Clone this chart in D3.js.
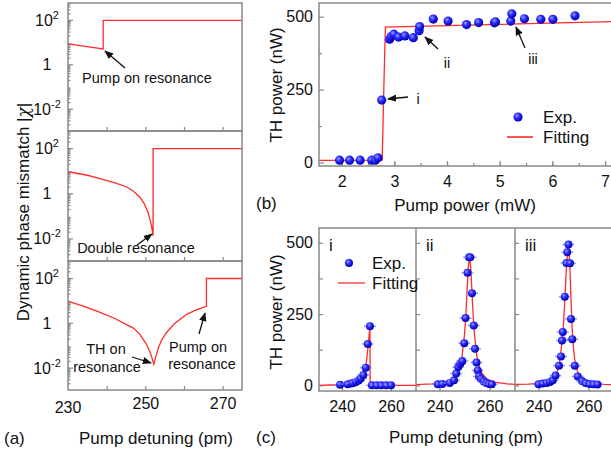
<!DOCTYPE html>
<html lang="en">
<head>
<meta charset="utf-8">
<title>TH chart</title>
<script src="https://cdn.jsdelivr.net/npm/d3@7"></script>
<style>
    body { margin: 0; background: #fff; }
    svg text { font-family: "Liberation Sans", Arial, sans-serif; fill: #111; }
    .axis path { display: none; }
    .axis line { stroke: #888; stroke-width: 1.2; }
    .axis text { font-size: 16px; fill: #111; }
    .frame { fill: none; stroke: #888; stroke-width: 1.5; }
    .fit { fill: none; stroke: #ff2a2a; stroke-width: 1.3; }
    .ann { font-size: 14.5px; }
    .lab { font-size: 17px; }
</style>
</head>
<body>
<div id="chart"></div>
<script>

// (a) dynamic phase mismatch vs pump detuning
var detA1 = [230, 234.5, 239.1, 239.1, 275];
var chiA1 = [8.3, 6.4, 4.9, 95, 95];
var detA2 = [230, 235, 238.3, 242, 245.2, 247, 248.6, 249.7, 250.7, 251.3, 251.6, 251.85, 252.0, 252.0, 275];
var chiA2 = [9, 6.3, 4.5, 3, 1.9, 1.2, 0.67, 0.35, 0.14, 0.06, 0.035, 0.02, 0.013, 95, 95];
var detA3 = [230, 234, 238.3, 242, 245, 246.9, 248.5, 250.3, 251.2, 251.7, 252.2, 252.7, 253.3, 254.2, 255.5, 257.5, 260.7, 263, 265.8, 265.8, 275];
var chiA3 = [9, 5.5, 2.9, 1.6, 0.85, 0.58, 0.32, 0.11, 0.05, 0.028, 0.014, 0.03, 0.07, 0.17, 0.37, 0.9, 2.4, 3.7, 5.4, 95, 95];
var logTicks = [0.01, 1, 100];
var logTickText = [["10", "-2"], ["1", ""], ["10", "2"]];

// (b) TH power vs pump power
var pumpExp = [1.96, 2.15, 2.35, 2.57, 2.64, 2.69, 2.76, 2.91, 2.94, 2.99, 3.08, 3.2, 3.36, 3.47, 3.48, 3.74, 4.02, 4.37, 4.6, 4.9, 4.92, 5.21, 5.23, 5.47, 5.78, 6.01, 6.43];
var thExp = [8, 8, 8, 8, 8, 16, 214, 423, 432, 440, 430, 434, 428, 452, 466, 492, 485, 473, 480, 479, 482, 485, 510, 493, 491, 491, 503];
var pumpFit = [1.57, 2.77, 2.8, 2.83, 7.3];
var thFit = [7, 8, 250, 464, 484];
var pumpTicks = [2, 3, 4, 5, 6, 7];
var powerTicks = [0, 250, 500];

// (c) TH power vs pump detuning, three pump powers
var detI = [239.2, 242.3, 243.7, 244.6, 245.7, 246.8, 247.6, 248.7, 249.7, 250.5, 251.4, 252.2, 254.1, 256, 258, 260];
var thI = [2, 4, 6, 8, 12, 17, 24, 36, 62, 145, 207, 0, 0, 0, 0, 0];
var fitDetI = [230.6, 236, 240, 242, 244, 246, 247, 248, 249, 250, 250.8, 251.4, 251.5, 270.2];
var fitThI = [0, 1, 2, 4, 7, 13, 19, 28, 45, 85, 150, 210, 0, 0];

var detII = [239.3, 241.1, 244.1, 245.8, 246.7, 247.5, 248.3, 249.1, 249.9, 250.4, 251.2, 251.8, 252.3, 253, 253.7, 254.2, 254.8, 255.3, 255.8, 256.6, 257.7, 258.8, 259.8, 260.9];
var thII = [3.5, 4.7, 8, 17.5, 41, 64, 76, 85, 148, 236, 395, 449, 449, 323, 210, 128, 80, 52, 31, 22, 13, 8, 4.5, 3.5];
var fitDetII = [230.6, 237, 242, 245, 247, 248, 249, 250, 250.5, 251, 251.5, 252, 252.5, 253, 253.5, 254, 255, 256, 257, 259, 262, 267, 270.2];
var fitThII = [2.5, 5, 11, 22, 42, 62, 100, 177, 240, 325, 412, 452, 412, 325, 240, 177, 100, 62, 42, 22, 11, 5, 3.5];

var detIII = [240, 241.6, 243.3, 244.6, 245.7, 246.8, 248.2, 249, 249.4, 249.7, 250.5, 251.2, 251.5, 252, 252.6, 253, 253.5, 254.5, 255.7, 257.4, 258.8, 260.4, 262, 263.6];
var thIII = [3.5, 6, 8, 12, 17.5, 34, 69, 101, 157, 187, 311, 429, 467, 494, 428, 233, 162, 69, 31, 15, 8, 4.5, 3.5, 3];
var fitDetIII = [230.6, 236, 240, 243, 245, 246.5, 247.5, 248.5, 249.3, 250, 250.6, 251.2, 251.9, 252.5, 253, 253.5, 254, 254.5, 255.5, 257, 259, 262, 266, 270.2];
var fitThIII = [3, 4, 7, 11, 18, 30, 48, 85, 145, 215, 310, 420, 500, 430, 300, 190, 130, 90, 50, 25, 12, 6, 3, 2];
var detTicks = [240, 260];
var panelNames = ["i", "ii", "iii"];

var width = 611, height = 453;

var svg = d3.select("#chart").append("svg")
    .attr("width", width)
    .attr("height", height);

var defs = svg.append("defs");
var grad = defs.append("radialGradient")
    .attr("id", "ball")
    .attr("cx", "38%").attr("cy", "35%").attr("r", "65%");
grad.append("stop").attr("offset", "0%").attr("stop-color", "#9a9aff");
grad.append("stop").attr("offset", "45%").attr("stop-color", "#2a2aff");
grad.append("stop").attr("offset", "100%").attr("stop-color", "#0000b0");

defs.append("marker")
    .attr("id", "arrow")
    .attr("viewBox", "0 0 10 10")
    .attr("refX", 9).attr("refY", 5)
    .attr("markerWidth", 7).attr("markerHeight", 7)
    .attr("orient", "auto-start-reverse")
    .append("path")
    .attr("d", "M0,1 L10,5 L0,9 Z")
    .style("fill", "#111");

function clipFor(id, x0, y0, x1, y1) {
    defs.append("clipPath").attr("id", id)
        .append("rect")
        .attr("x", x0).attr("y", y0)
        .attr("width", x1 - x0).attr("height", y1 - y0);
    return "url(#" + id + ")";
}

function arrow(x1, y1, x2, y2) {
    svg.append("line")
        .attr("x1", x1).attr("y1", y1)
        .attr("x2", x2).attr("y2", y2)
        .style("stroke", "#111")
        .style("stroke-width", 1.3)
        .attr("marker-end", "url(#arrow)");
}

function ann(x, y, txt, anchor) {
    svg.append("text")
        .attr("class", "ann")
        .attr("x", x).attr("y", y)
        .attr("text-anchor", anchor || "middle")
        .text(txt);
}

// ---------- panel (a) ----------
var ax0 = 68, ax1 = 242;
var aTops = [3, 131, 261], aBots = [131, 261, 390];
var aDet = [detA1, detA2, detA3], aChi = [chiA1, chiA2, chiA3];

var xA = d3.scaleLinear().domain([230, 275]).range([ax0, ax1]);

aTops.forEach(function(top, k) {
    var bot = aBots[k];
    var yA = d3.scaleLog().domain([0.001, 575]).range([bot, top]);

    var minor = [];
    [0.001, 0.01, 0.1, 1, 10, 100].forEach(function(dec) {
        for (var m = 2; m <= 9; m++) {
            if (dec * m < 575) minor.push(dec * m);
        }
    });
    svg.append("g").attr("class", "axis")
        .attr("transform", "translate(" + ax0 + ",0)")
        .call(d3.axisLeft(yA).tickValues(minor).tickSize(-2.5).tickFormat(""));
    svg.append("g").attr("class", "axis")
        .attr("transform", "translate(" + ax0 + ",0)")
        .call(d3.axisLeft(yA).tickValues(logTicks).tickSize(-5).tickFormat(""));

    logTicks.forEach(function(v, i) {
        var t = svg.append("text")
            .attr("x", 47).attr("y", yA(v) + 6)
            .attr("text-anchor", "middle")
            .style("font-size", "16px")
            .text(logTickText[i][0]);
        if (logTickText[i][1]) {
            t.append("tspan")
                .attr("dy", -7)
                .style("font-size", "11px")
                .text(logTickText[i][1]);
        }
    });

    svg.append("g").attr("class", "axis")
        .attr("transform", "translate(0," + bot + ")")
        .call(d3.axisBottom(xA).tickValues([240, 250, 260, 270]).tickSize(-4)
            .tickFormat(function(d) { return k == 2 && d != 240 && d != 260 ? d : ""; }).tickPadding(8));

    var line = d3.line()
        .x(function(d) { return xA(d[0]); })
        .y(function(d) { return yA(d[1]); });

    svg.append("path")
        .attr("class", "fit")
        .attr("clip-path", clipFor("clipA" + k, ax0, top, ax1, bot))
        .attr("d", line(d3.zip(aDet[k], aChi[k])));

    svg.append("rect").attr("class", "frame")
        .attr("x", ax0).attr("y", top)
        .attr("width", ax1 - ax0).attr("height", bot - top);
});

svg.append("text")
    .attr("x", xA(230)).attr("y", 413)
    .attr("text-anchor", "middle")
    .style("font-size", "16px")
    .text("230");

ann(147, 83, "Pump on resonance");
arrow(125, 68, 105, 51);
ann(136, 253, "Double resonance");
arrow(137, 245, 152, 234);
ann(106, 354, "TH on");
ann(107, 372, "resonance");
arrow(132, 357, 151, 363);
ann(198, 352, "Pump on");
ann(202, 369, "resonance");
arrow(199, 334, 205, 313);

svg.append("text").attr("class", "lab")
    .attr("transform", "translate(29,212) rotate(-90)")
    .attr("text-anchor", "middle")
    .text("Dynamic phase mismatch |")
    .append("tspan").style("font-style", "italic").style("font-family", "DejaVu Serif, serif").text("χ")
    .select(function() { return this.parentNode; })
    .append("tspan").text("|");

svg.append("text").attr("class", "lab")
    .attr("x", 156).attr("y", 444)
    .attr("text-anchor", "middle")
    .text("Pump detuning (pm)");
svg.append("text").attr("class", "lab")
    .attr("x", 4).attr("y", 444)
    .text("(a)");

// ---------- panel (b) ----------
var bx0 = 319, bx1 = 614, bTop = 3, bBot = 166;
var xB = d3.scaleLinear().domain([1.57, 7.17]).range([bx0, bx1]);
var yB = d3.scaleLinear().domain([-12, 547]).range([bBot, bTop]);

svg.append("g").attr("class", "axis")
    .attr("transform", "translate(0," + bBot + ")")
    .call(d3.axisBottom(xB).tickValues(d3.range(2, 7.1, 0.5)).tickSize(-3).tickFormat(""));
svg.append("g").attr("class", "axis")
    .attr("transform", "translate(0," + bBot + ")")
    .call(d3.axisBottom(xB).tickValues(pumpTicks).tickSize(-5).tickFormat(d3.format("d")).tickPadding(10));
svg.append("g").attr("class", "axis")
    .attr("transform", "translate(" + bx0 + ",0)")
    .call(d3.axisLeft(yB).tickValues([125, 375]).tickSize(-3).tickFormat(""));
svg.append("g").attr("class", "axis")
    .attr("transform", "translate(" + bx0 + ",0)")
    .call(d3.axisLeft(yB).tickValues(powerTicks).tickSize(-5).tickPadding(6));

var lineB = d3.line()
    .x(function(d) { return xB(d[0]); })
    .y(function(d) { return yB(d[1]); });

svg.append("path")
    .attr("class", "fit")
    .attr("clip-path", clipFor("clipB", bx0, bTop, width, bBot))
    .attr("d", lineB(d3.zip(pumpFit, thFit)));

svg.append("g").selectAll("circle")
    .data(d3.zip(pumpExp, thExp))
    .enter().append("circle")
    .attr("cx", function(d) { return xB(d[0]); })
    .attr("cy", function(d) { return yB(d[1]); })
    .attr("r", 4.6)
    .style("fill", "url(#ball)");

svg.append("path").attr("class", "frame")
    .attr("d", "M" + width + "," + bTop + "H" + bx0 + "V" + bBot + "H" + width);

ann(418, 104, "i", "middle");
arrow(408, 97, 388, 99);
ann(447, 68, "ii", "middle");
arrow(438, 49, 425, 37);
ann(533, 64, "iii", "middle");
arrow(525, 48, 516, 27);

// legend (b)
svg.append("circle").attr("cx", 518).attr("cy", 117).attr("r", 4.6).style("fill", "url(#ball)");
svg.append("text").attr("class", "lab").attr("x", 543).attr("y", 123).text("Exp.");
svg.append("line").attr("class", "fit").attr("x1", 507).attr("x2", 533).attr("y1", 137).attr("y2", 137)
    .style("stroke-width", 1.6);
svg.append("text").attr("class", "lab").attr("x", 543).attr("y", 143).text("Fitting");

svg.append("text").attr("class", "lab")
    .attr("transform", "translate(282,85) rotate(-90)")
    .attr("text-anchor", "middle")
    .text("TH power (nW)");
svg.append("text").attr("class", "lab")
    .attr("x", 465).attr("y", 211)
    .attr("text-anchor", "middle")
    .text("Pump power (mW)");
svg.append("text").attr("class", "lab")
    .attr("x", 256).attr("y", 209)
    .text("(b)");

// ---------- panel (c) ----------
var cTop = 228, cBot = 391;
var cEdges = [319, 416, 515, 614];
var cDet = [detI, detII, detIII], cTh = [thI, thII, thIII];
var cFitDet = [fitDetI, fitDetII, fitDetIII], cFitTh = [fitThI, fitThII, fitThIII];
var yC = d3.scaleLinear().domain([-20, 552]).range([cBot, cTop]);

cEdges.slice(0, 3).forEach(function(x0, k) {
    var x1 = cEdges[k + 1];
    var xC = d3.scaleLinear().domain([230.6, 270.2]).range([x0, x1]);

    svg.append("g").attr("class", "axis")
        .attr("transform", "translate(0," + cBot + ")")
        .call(d3.axisBottom(xC).tickValues(detTicks).tickSize(-4).tickPadding(10));
    svg.append("g").attr("class", "axis")
        .attr("transform", "translate(" + x0 + ",0)")
        .call(d3.axisLeft(yC).tickValues([0, 125, 250, 375, 500]).tickSize(-4)
            .tickFormat(function(d) { return k == 0 && powerTicks.indexOf(d) >= 0 ? d : ""; }).tickPadding(6));

    var lineC = d3.line()
        .x(function(d) { return xC(d[0]); })
        .y(function(d) { return yC(d[1]); });

    svg.append("path")
        .attr("class", "fit")
        .attr("clip-path", clipFor("clipC" + k, x0, cTop, x1, cBot))
        .attr("d", lineC(d3.zip(cFitDet[k], cFitTh[k])));

    var pts = svg.append("g").selectAll("g")
        .data(d3.zip(cDet[k], cTh[k]))
        .enter().append("g")
        .attr("transform", function(d) { return "translate(" + xC(d[0]) + "," + yC(d[1]) + ")"; });
    pts.append("line")
        .attr("x1", -6).attr("x2", 6)
        .style("stroke", "#8888ff").style("stroke-width", 1.6).style("opacity", 0.8);
    pts.append("line")
        .attr("y1", -2).attr("y2", 2)
        .style("stroke", "#8888ff").style("stroke-width", 1.6).style("opacity", 0.8);
    pts.append("circle")
        .attr("r", 4)
        .style("fill", "url(#ball)");

    svg.append("text").attr("class", "lab")
        .attr("x", x0 + 10).attr("y", 251)
        .text(panelNames[k]);
});

svg.append("path").attr("class", "frame")
    .attr("d", "M" + width + "," + cTop + "H" + cEdges[0] + "V" + cBot + "H" + width);
[cEdges[1], cEdges[2]].forEach(function(x) {
    svg.append("line").attr("class", "frame")
        .attr("x1", x).attr("x2", x).attr("y1", cTop).attr("y2", cBot);
});

// legend (c)
svg.append("circle").attr("cx", 349).attr("cy", 263).attr("r", 4).style("fill", "url(#ball)");
svg.append("text").attr("class", "lab").attr("x", 372).attr("y", 269).text("Exp.");
svg.append("line").attr("class", "fit").attr("x1", 338).attr("x2", 365).attr("y1", 283).attr("y2", 283);
svg.append("text").attr("class", "lab").attr("x", 372).attr("y", 289).text("Fitting");

svg.append("text").attr("class", "lab")
    .attr("transform", "translate(282,312) rotate(-90)")
    .attr("text-anchor", "middle")
    .text("TH power (nW)");
svg.append("text").attr("class", "lab")
    .attr("x", 466).attr("y", 443)
    .attr("text-anchor", "middle")
    .text("Pump detuning (pm)");
svg.append("text").attr("class", "lab")
    .attr("x", 256).attr("y", 443)
    .text("(c)");

</script>
</body>
</html>
